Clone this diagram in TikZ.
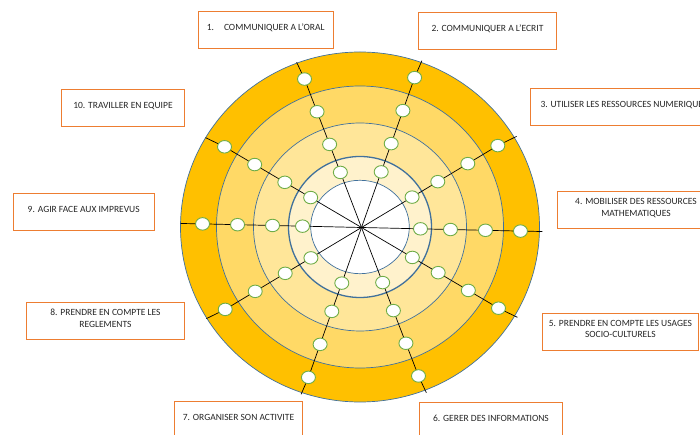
\documentclass[tikz,border=0pt]{standalone}
\usepackage{fontspec}
\setmainfont{Carlito}
\usetikzlibrary{shapes.geometric}

\definecolor{ringA}{HTML}{FFC000}
\definecolor{ringB}{HTML}{FFD966}
\definecolor{ringC}{HTML}{FFE699}
\definecolor{ringD}{HTML}{FFF2CC}
\definecolor{ringline}{HTML}{41719C}
\definecolor{dotline}{HTML}{70AD47}
\definecolor{boxline}{HTML}{ED7D31}
\definecolor{txtgray}{HTML}{262626}

\tikzset{
  box/.style={draw=boxline, fill=white, line width=0.9pt, minimum height=36.7pt,
    inner sep=0pt, align=center, text=txtgray, font=\fontsize{9.5}{11.5}\selectfont,
    execute at end node={\rule[-5.4pt]{0pt}{5.4pt}}},
  dot/.style={ellipse, draw=dotline, fill=white, line width=0.9pt,
    minimum width=14pt, minimum height=12.5pt, inner sep=0pt},
  ring/.style={draw=ringline, line width=0.7pt},
  spoke/.style={draw=black, line width=0.7pt}
}

\begin{document}
\begin{tikzpicture}[x=1pt,y=1pt]
\useasboundingbox (-360,-208) rectangle (340,227);
\clip (-360,-208) rectangle (340,227);
 % the rings, from outside in
 \filldraw[ring, fill=ringA] (0,0) ellipse [x radius=179.5pt, y radius=175pt];
 \filldraw[ring, fill=ringB] (0,0) ellipse [x radius=143.5pt, y radius=141pt];
 \filldraw[ring, fill=ringC] (0,0) ellipse [x radius=106.5pt, y radius=104pt];
 \filldraw[ring, fill=ringD, line width=1.3pt] (0,0) ellipse [x radius=71.5pt, y radius=70.5pt];
 \filldraw[ring, fill=white] (0,0) ellipse [x radius=49.3pt, y radius=46.7pt];
 \coordinate (hub) at (1.5,-0.5);
 % ten spokes, four marks on each
 \foreach \a [count=\i] in {111,70.5,31,-1.3,-30.5,-69,-109.5,-149,178.7,149.5}{
  \coordinate (tip\i) at ({1.5+181*cos(\a)},{-0.5+177*sin(\a)});
  \foreach \r [count=\j] in {59,89,124,159}
   \node[dot] (d\i-\j) at ({1.5+\r*cos(\a)},{-0.5+\r*sin(\a)}) {};
  \draw[spoke] (hub) -- (d\i-1) -- (d\i-2) -- (d\i-3) -- (d\i-4) -- (tip\i);
 }
 % the ten skills
 \node[box, minimum width=135pt] (box1) at (-94.2,197) {\makebox[118pt][l]{1.\hspace{10pt}COMMUNIQUER A L’ORAL}};
 \node[box, minimum width=138.4pt] (box2) at (127.5,195.8) {2. COMMUNIQUER A L’ECRIT};
 \node[box, minimum width=200pt] (box3) at (270,120.3) {\makebox[179pt][l]{3. UTILISER LES RESSOURCES NUMERIQUES}};
 \node[box, minimum width=158pt] (box4) at (276,17) {4. MOBILISER DES RESSOURCES\\MATHEMATIQUES};
 \node[box, minimum width=155.3pt] (box5) at (260.4,-104.7) {5. PRENDRE EN COMPTE LES USAGES\\SOCIO-CULTURELS};
 \node[box, minimum width=143.4pt] (box6) at (131,-194) {6. GERER DES INFORMATIONS};
 \node[box, minimum width=128.4pt] (box7) at (-121.5,-193) {7. ORGANISER SON ACTIVITE};
 \node[box, minimum width=157.6pt] (box8) at (-254.5,-93.8) {8. PRENDRE EN COMPTE LES\\REGLEMENTS};
 \node[box, minimum width=140.7pt] (box9) at (-276.3,15.3) {9. AGIR FACE AUX IMPREVUS};
 \node[box, minimum width=122.6pt] (box10) at (-237,118.7) {10. TRAVILLER EN EQUIPE};
\end{tikzpicture}
\end{document}
